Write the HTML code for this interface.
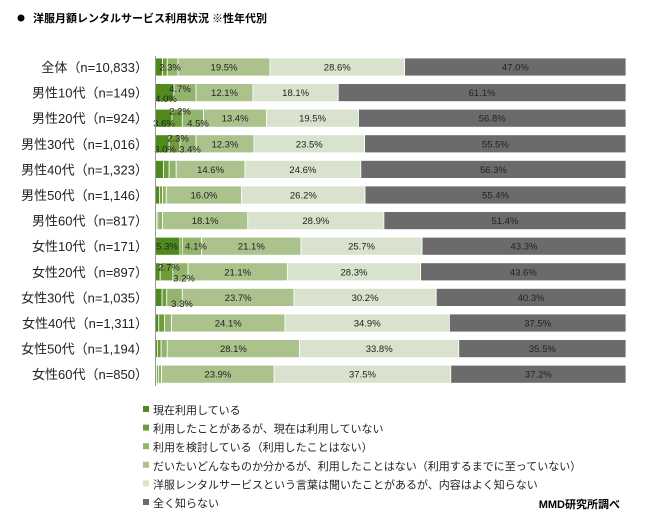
<!DOCTYPE html>
<html><head><meta charset="utf-8"><style>
body{margin:0;background:#fff;width:650px;height:526px;overflow:hidden}
svg{display:block}
text{font-family:"Liberation Sans","Noto Sans CJK JP",sans-serif}
</style></head><body>
<svg id="s" width="650" height="526" xmlns="http://www.w3.org/2000/svg"></svg>
<script>
const C=['#4e8a1c','#6f9c3a','#93b46d','#abc28c','#d8e2cc','#6b6b6b'];
const rows=[
['全体（n=10,833）',[1.6,1.0,2.3,19.5,28.6,47.0]],
['男性10代（n=149）',[4.0,0.01,4.7,12.1,18.1,61.1]],
['男性20代（n=924）',[3.6,2.2,4.5,13.4,19.5,56.8]],
['男性30代（n=1,016）',[3.0,2.3,3.4,12.3,23.5,55.5]],
['男性40代（n=1,323）',[1.8,1.2,1.5,14.6,24.6,56.3]],
['男性50代（n=1,146）',[1.0,0.6,0.8,16.0,26.2,55.4]],
['男性60代（n=817）',[0.3,0.3,1.0,18.1,28.9,51.4]],
['女性10代（n=171）',[5.3,0.5,4.1,21.1,25.7,43.3]],
['女性20代（n=897）',[1.1,2.7,3.2,21.1,28.3,43.6]],
['女性30代（n=1,035）',[1.5,1.0,3.3,23.7,30.2,40.3]],
['女性40代（n=1,311）',[0.8,1.2,1.5,24.1,34.9,37.5]],
['女性50代（n=1,194）',[0.5,0.8,1.3,28.1,33.8,35.5]],
['女性60代（n=850）',[0.3,0.4,0.7,23.9,37.5,37.2]]];
const small={0:[['2.3%',170,0]],1:[['4.0%',166,6],['4.7%',180,-4]],2:[['2.2%',180,-7],['3.6%',164,5],['4.5%',198,5]],
3:[['2.3%',178,-6],['3.0%',165,5],['3.4%',190,5]],7:[['5.3%',167,0],['4.1%',196,0]],8:[['2.7%',169,-5],['3.2%',184,6]],9:[['3.3%',182,6]]};
let h='<circle cx="21" cy="18" r="3.5" fill="#000"/><text x="33" y="22" font-size="11" font-weight="bold">洋服月額レンタルサービス利用状況 ※性年代別</text>';
const X0=155,W=471;
rows.forEach((r,i)=>{
 const cy=67+i*25.6;
 h+=`<text x="148" y="${cy+5}" font-size="13" text-anchor="end" fill="#222">${r[0]}</text>`;
 let x=X0;const tot=r[1].reduce((a,b)=>a+b,0);
 r[1].forEach((v,j)=>{const w=v/tot*W;
  h+=`<rect x="${x}" y="${cy-9}" width="${w}" height="18" fill="${C[j]}" stroke="#fff" stroke-width="0.8"/>`;
  if(v>=10)h+=`<text x="${x+w/2}" y="${cy+3.5}" font-size="9.5" text-anchor="middle" fill="#222">${v.toFixed(1)}%</text>`;
  x+=w;});
 (small[i]||[]).forEach(s=>{h+=`<text x="${s[1]}" y="${cy+3.5+s[2]}" font-size="9.5" text-anchor="middle" fill="#222">${s[0]}</text>`;});
});
h+='<line x1="155.5" y1="56" x2="155.5" y2="386" stroke="#999" stroke-width="1"/>';
const L=['現在利用している','利用したことがあるが、現在は利用していない','利用を検討している（利用したことはない）','だいたいどんなものか分かるが、利用したことはない（利用するまでに至っていない）','洋服レンタルサービスという言葉は聞いたことがあるが、内容はよく知らない','全く知らない'];
L.forEach((t,i)=>{const y=410+i*18.6;
 h+=`<rect x="143" y="${y-4}" width="6" height="6" fill="${C[i]}"/><text x="153" y="${y+4}" font-size="11" fill="#222">${t}</text>`;});
h+='<text x="620" y="508" font-size="11" font-weight="bold" text-anchor="end">MMD研究所調べ</text>';
document.getElementById('s').innerHTML=h;
</script>
</body></html>
